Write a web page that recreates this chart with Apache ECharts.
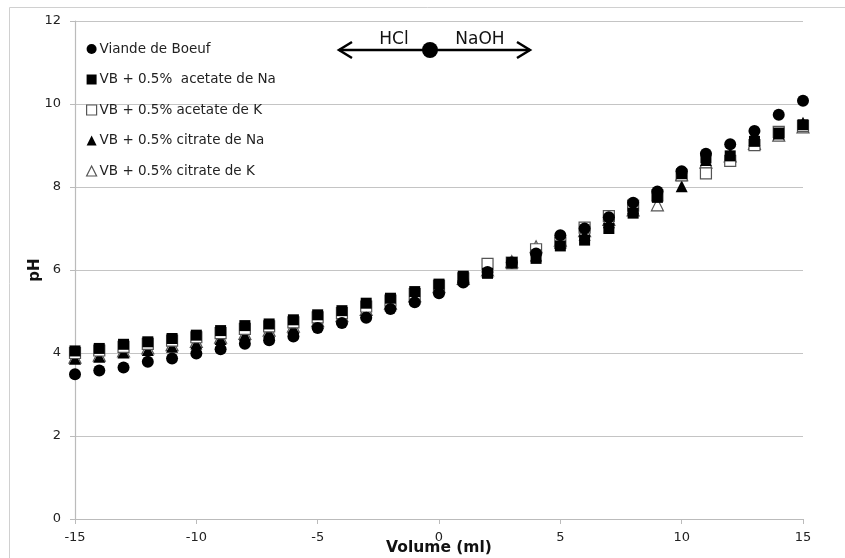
<!DOCTYPE html>
<html><head><meta charset="utf-8">
<script src="https://cdn.jsdelivr.net/npm/echarts@6/dist/echarts.min.js"></script>
<style>html,body{margin:0;padding:0;background:#fff}#c{width:845px;height:558px}</style>
</head><body><div id="c"></div>
<script>
const volumes = [-15,-14,-13,-12,-11,-10,-9,-8,-7,-6,-5,-4,-3,-2,-1,0,1,2,3,4,5,6,7,8,9,10,11,12,13,14,15];
const seriesNames = ["Viande de Boeuf","VB + 0.5%  acetate de Na","VB + 0.5% acetate de K","VB + 0.5% citrate de Na","VB + 0.5% citrate de K"];
const viande = [3.49,3.58,3.65,3.79,3.87,3.99,4.09,4.22,4.31,4.40,4.60,4.72,4.85,5.06,5.22,5.44,5.70,5.95,6.18,6.40,6.84,7.00,7.27,7.62,7.89,8.38,8.80,9.03,9.35,9.74,10.08];
const acetateNa = [4.05,4.11,4.21,4.27,4.35,4.43,4.54,4.66,4.70,4.80,4.92,5.02,5.20,5.32,5.48,5.66,5.85,5.92,6.18,6.28,6.58,6.72,7.00,7.37,7.75,8.32,8.70,8.75,9.10,9.30,9.50];
const acetateK = [4.00,4.06,4.15,4.22,4.30,4.38,4.48,4.58,4.64,4.74,4.86,4.96,5.12,5.26,5.42,5.62,5.80,6.15,6.18,6.50,6.66,7.02,7.30,7.55,7.80,8.28,8.33,8.63,9.01,9.33,9.47];
const citrateNa = [3.86,3.91,4.01,4.07,4.15,4.23,4.34,4.43,4.50,4.60,4.72,4.84,4.98,5.15,5.32,5.55,5.78,5.95,6.16,6.35,6.65,6.85,7.15,7.50,7.80,8.02,8.65,8.80,9.13,9.29,9.55];
const citrateK = [3.90,3.95,4.05,4.12,4.20,4.28,4.38,4.47,4.55,4.65,4.78,4.90,5.05,5.20,5.38,5.60,5.80,6.00,6.20,6.56,6.72,6.95,7.22,7.45,7.57,8.30,8.60,8.75,9.05,9.25,9.45];
const annotLeft = "HCl", annotRight = "NaOH";

const pairs = v => volumes.map((x,i)=>[x,v[i]]);
const font = "DejaVu Sans";
const styles = [
  {symbol:'circle', size:12, item:{color:'#000', opacity:1}},
  {symbol:'rect', size:11, item:{color:'#000', opacity:1}},
  {symbol:'rect', size:11, item:{color:'#fff', borderColor:'#555', borderWidth:1.2, opacity:1}},
  {symbol:'triangle', size:12, item:{color:'#000', opacity:1}},
  {symbol:'triangle', size:12, item:{color:'#fff', borderColor:'#555', borderWidth:1.2, opacity:1}}
];
const data = [viande, acetateNa, acetateK, citrateNa, citrateK];
const order = [4,2,3,1,0];
const series = order.map(k=>({
  name: seriesNames[k], type:'scatter', data: pairs(data[k]),
  symbol: styles[k].symbol, symbolSize: styles[k].size, itemStyle: styles[k].item,
  emphasis:{disabled:true},
  z: 2 + (4-k)
}));
const chart = echarts.init(document.getElementById('c'), null, {renderer:'canvas'});
chart.setOption({
  animation:false,
  backgroundColor:'#fff',
  textStyle:{fontFamily:font},
  grid:{left:75,right:42,top:21,bottom:39,containLabel:false,outerBoundsMode:'none'},
  legend:{
    data: seriesNames.map((n,i)=>({name:n, icon: styles[i].symbol, itemStyle: styles[i].item})),
    orient:'vertical', left:81, top:37, itemWidth:10, itemHeight:10, itemGap:16.5,
    textStyle:{fontFamily:font, fontSize:13.5, color:'#222', padding:[0,0,0,-2]},
    selectedMode:false
  },
  xAxis:{
    type:'value', min:-15, max:15, interval:5,
    name:'Volume (ml)', nameLocation:'middle', nameGap:21, nameMoveOverlap:false,
    nameTextStyle:{fontFamily:font, fontWeight:'bold', fontSize:15.5, color:'#111'},
    axisLine:{show:true, onZero:false, lineStyle:{color:'#bbb', width:1.2}},
    axisTick:{show:true, length:5, lineStyle:{color:'#bbb'}},
    axisLabel:{fontFamily:font, fontSize:13, color:'#222', margin:12},
    splitLine:{show:false}
  },
  yAxis:{
    type:'value', min:0, max:12, interval:2,
    name:'pH', nameLocation:'middle', nameGap:32, nameRotate:90, nameMoveOverlap:false,
    nameTextStyle:{fontFamily:font, fontWeight:'bold', fontSize:15, color:'#111'},
    axisLine:{show:true, onZero:false, lineStyle:{color:'#bbb', width:1.2}},
    axisTick:{show:true, length:5, lineStyle:{color:'#bbb'}},
    axisLabel:{fontFamily:font, fontSize:13, color:'#222', margin:14},
    splitLine:{show:true, lineStyle:{color:'#c4c4c4', width:1}}
  },
  graphic:[
    {type:'rect', shape:{x:9.5,y:7.5,width:860,height:600}, style:{fill:null, stroke:'#d0d0d0', lineWidth:1}, silent:true, z:-10},
    {type:'line', shape:{x1:339,y1:50,x2:530,y2:50}, style:{stroke:'#000', lineWidth:2.5}},
    {type:'polyline', shape:{points:[[352,42],[339,50],[352,58]]}, style:{stroke:'#000', lineWidth:2.5, fill:null}},
    {type:'polyline', shape:{points:[[517,42],[530,50],[517,58]]}, style:{stroke:'#000', lineWidth:2.5, fill:null}},
    {type:'circle', shape:{cx:430,cy:50,r:8}, style:{fill:'#000'}},
    {type:'text', style:{text:annotLeft, x:394, y:40, align:'center', verticalAlign:'middle', font:'17px "DejaVu Sans"', fill:'#111'}},
    {type:'text', style:{text:annotRight, x:480, y:40, align:'center', verticalAlign:'middle', font:'17px "DejaVu Sans"', fill:'#111'}}
  ],
  series: series
});
</script></body></html>
